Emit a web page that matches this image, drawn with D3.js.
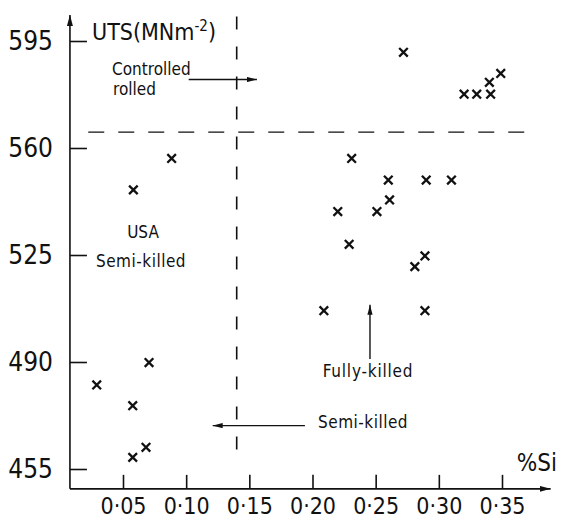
<!DOCTYPE html>
<html>
<head>
<meta charset="utf-8">
<script src="https://cdn.jsdelivr.net/npm/d3@7"></script>
<style>
  html, body { margin: 0; padding: 0; background: #fff; }
  svg { display: block; }
  text { font-family: "Liberation Sans Narrow", "DejaVu Sans Condensed", "Arial Narrow", sans-serif; fill: #111; }
</style>
</head>
<body>
<svg id="chart" width="561" height="521"></svg>
<script>
// Silicon content (%Si) against ultimate tensile strength (MN m^-2)
const siSemiKilled = [0.0885, 0.0582, 0.0706, 0.0292, 0.0577, 0.0682, 0.0577];
const utsSemiKilled = [556.6, 546.3, 489.8, 482.5, 475.7, 462.1, 458.8];

const siFullyKilled = [0.231, 0.260, 0.290, 0.310, 0.261, 0.220, 0.251, 0.229, 0.281, 0.289, 0.209, 0.289];
const utsFullyKilled = [556.6, 549.5, 549.5, 549.5, 543.0, 539.2, 539.2, 528.5, 521.2, 524.7, 506.8, 506.8];

const siControlled = [0.272, 0.320, 0.330, 0.341, 0.340, 0.349];
const utsControlled = [591.3, 577.6, 577.6, 577.6, 581.5, 584.4];

const xTicks = [0.05, 0.10, 0.15, 0.20, 0.25, 0.30, 0.35];
const yTicks = [455, 490, 525, 560, 595];

// Boundaries separating the steel groups
const siDivider = 0.14;
const utsDivider = 565.2;

const svg = d3.select("#chart");
const ink = "#111";

const x = d3.scaleLinear().domain([0.05, 0.35]).range([123, 502]);
const y = d3.scaleLinear().domain([455, 595]).range([469, 41]);

// Extent of the drawn axes
const xAxisStart = 0.008, xAxisEnd = 0.3885;
const yAxisStart = 448.5, yAxisEnd = 603.5;

const fmt = d => d.toFixed(2).replace(".", "\u00B7");

// Arrowhead markers
const defs = svg.append("defs");
function arrowMarker(id, len, half) {
  defs.append("marker")
    .attr("id", id)
    .attr("viewBox", `0 ${-half} ${len} ${2 * half}`)
    .attr("refX", len).attr("refY", 0)
    .attr("markerWidth", len).attr("markerHeight", 2 * half)
    .attr("markerUnits", "userSpaceOnUse")
    .attr("orient", "auto")
    .append("path")
    .attr("d", `M0,${-half}L${len},0L0,${half}Z`)
    .attr("fill", ink);
}
arrowMarker("head", 10, 2.6);
arrowMarker("axhead", 11, 3);

// Axis lines with arrows
svg.append("line")
  .attr("x1", x(xAxisStart)).attr("y1", y(yAxisStart))
  .attr("x2", x(xAxisEnd)).attr("y2", y(yAxisStart))
  .attr("stroke", ink).attr("stroke-width", 1.6)
  .attr("marker-end", "url(#axhead)");
svg.append("line")
  .attr("x1", x(xAxisStart)).attr("y1", y(yAxisStart))
  .attr("x2", x(xAxisStart)).attr("y2", y(yAxisEnd))
  .attr("stroke", ink).attr("stroke-width", 1.6)
  .attr("marker-end", "url(#axhead)");

// X axis: ticks pointing up into the plot
const gx = svg.append("g")
  .attr("transform", `translate(0,${y(yAxisStart)})`)
  .call(d3.axisBottom(x).tickValues(xTicks).tickFormat(fmt).tickSize(-14).tickPadding(9));
gx.select(".domain").remove();
gx.selectAll(".tick line").attr("stroke", ink).attr("stroke-width", 1.6);
gx.selectAll(".tick text").attr("font-size", 23).attr("font-family", null).style("fill", ink);

// Y axis: ticks pointing right into the plot
const gy = svg.append("g")
  .attr("transform", `translate(${x(xAxisStart)},0)`)
  .call(d3.axisLeft(y).tickValues(yTicks).tickFormat(d3.format("d")).tickSize(-17).tickPadding(17));
gy.select(".domain").remove();
gy.selectAll(".tick line").attr("stroke", ink).attr("stroke-width", 1.6);
gy.selectAll(".tick text").attr("font-size", 26).attr("font-family", null).style("fill", ink);

// Dashed group boundaries
svg.append("line")
  .attr("x1", x(siDivider)).attr("x2", x(siDivider))
  .attr("y1", y(603)).attr("y2", y(458))
  .attr("stroke", ink).attr("stroke-width", 1.6)
  .attr("stroke-dasharray", "13,17");
svg.append("line")
  .attr("x1", x(0.0225)).attr("x2", x(0.374))
  .attr("y1", y(utsDivider)).attr("y2", y(utsDivider))
  .attr("stroke", ink).attr("stroke-width", 1.4)
  .attr("stroke-dasharray", "16,14");

// Data points as crosses
const pts = []
  .concat(siSemiKilled.map((s, i) => [s, utsSemiKilled[i]]))
  .concat(siFullyKilled.map((s, i) => [s, utsFullyKilled[i]]))
  .concat(siControlled.map((s, i) => [s, utsControlled[i]]));
const r = 4.3;
svg.append("g").selectAll("path").data(pts).join("path")
  .attr("d", d => {
    const cx = x(d[0]), cy = y(d[1]);
    return `M${cx - r},${cy - r}L${cx + r},${cy + r}M${cx - r},${cy + r}L${cx + r},${cy - r}`;
  })
  .attr("stroke", ink).attr("stroke-width", 2.3).attr("fill", "none");

// Axis titles
const uts = svg.append("text").attr("x", 92).attr("y", 40).attr("font-size", 23);
uts.append("tspan").text("UTS(MNm");
uts.append("tspan").attr("dy", -9).attr("font-size", 15).text("-2");
uts.append("tspan").attr("dy", 9).text(")");

svg.append("text").attr("x", 557).attr("y", 471).attr("text-anchor", "end")
  .attr("font-size", 24).text("%Si");

// Group annotations
const small = 17;
svg.append("text").attr("x", 112).attr("y", 75).attr("font-size", small).text("Controlled");
svg.append("text").attr("x", 113).attr("y", 95).attr("font-size", small).text("rolled");
svg.append("text").attr("x", 143).attr("y", 238).attr("text-anchor", "middle").attr("font-size", small).text("USA");
svg.append("text").attr("x", 141).attr("y", 267).attr("text-anchor", "middle").attr("font-size", small)
  .attr("letter-spacing", 0.5).text("Semi-killed");
svg.append("text").attr("x", 368).attr("y", 377).attr("text-anchor", "middle").attr("font-size", small)
  .attr("letter-spacing", 0.8).text("Fully-killed");
svg.append("text").attr("x", 318).attr("y", 428).attr("font-size", small)
  .attr("letter-spacing", 0.5).text("Semi-killed");

// Annotation arrows
function arrow(x1, y1, x2, y2) {
  svg.append("line")
    .attr("x1", x1).attr("y1", y1).attr("x2", x2).attr("y2", y2)
    .attr("stroke", ink).attr("stroke-width", 1.4)
    .attr("marker-end", "url(#head)");
}
arrow(x(0.102), y(582.4), x(0.156), y(582.4));
arrow(x(0.194), y(469.2), x(0.121), y(469.2));
arrow(x(0.2455), y(491), x(0.2455), y(508.7));
</script>
</body>
</html>
